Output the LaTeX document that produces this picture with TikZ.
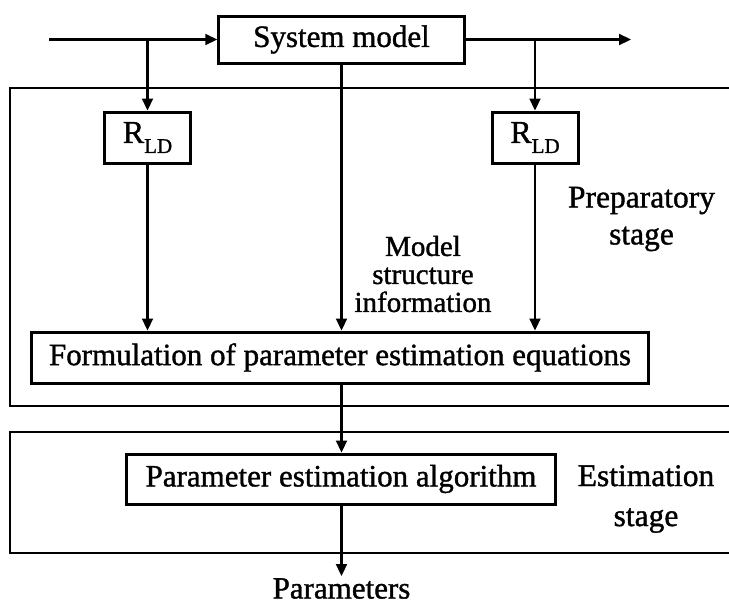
\documentclass[tikz,border=0pt]{standalone}
\usepackage{fontspec}
\setmainfont{Liberation Serif}[FakeBold=1.2]
\usetikzlibrary{arrows.meta}
\newcommand{\rld}{{\fontsize{32}{32}\selectfont R}\raisebox{-10pt}{\fontsize{21}{21}\selectfont LD}}
\begin{document}
\begin{tikzpicture}[x=1pt,y=-1pt,
  every node/.style={font=\fontsize{31}{31}\selectfont},
  box/.style={draw, line width=3pt, inner sep=0pt},
  stagebox/.style={draw, line width=2.8pt},
  conn/.style={line width=2.2pt, -{Triangle[length=12pt,width=11pt]}},
  lab/.style={align=center, inner sep=0pt}]
\useasboundingbox (0,0) rectangle (729,606);
\clip (0,0) rectangle (729,606);
% stage frames
\draw[stagebox] (10,88) rectangle (745,406);
\draw[stagebox] (10,432) rectangle (745,553);
% blocks
\node[box, minimum width=245.5pt, minimum height=47pt] (sys) at (341.5,39.5) {System model};
\node[box, minimum width=86pt, minimum height=51pt] (rl) at (147.5,137.5) {\rld};
\node[box, minimum width=86pt, minimum height=51pt] (rr) at (535,137.5) {\rld};
\node[box, minimum width=617pt, minimum height=51pt] (form) at (340,357.5) {Formulation of parameter estimation equations};
\node[box, minimum width=429pt, minimum height=50pt] (alg) at (341,479) {Parameter estimation algorithm};
\node[anchor=north, inner sep=2pt] (par) at (341.5,576) {Parameters};
% labels
\node[lab, font=\fontsize{29}{28}\selectfont] (msi) at (423,274) {Model\\structure\\information};
\node[lab, font=\fontsize{31.5}{37}\selectfont] (prep) at (641.5,219) {Preparatory\\stage};
\node[lab, font=\fontsize{31.5}{40}\selectfont] (est) at (646,499) {Estimation\\stage};
% connectors
\coordinate (in) at (49,39.5);
\coordinate (out) at (631,39.5);
\draw[conn] (in) -- (sys.west);
\draw[conn] (sys.east) -- (out);
\draw[conn] (rl.north |- sys.west) -- (rl.north);
\draw[conn] (rr.north |- sys.east) -- (rr.north);
\draw[conn] (rl.south) -- (rl.south |- form.north);
\draw[conn] (rr.south) -- (rr.south |- form.north);
\draw[conn] (sys.south) -- (sys.south |- form.north);
\draw[conn] (sys.south |- form.south) -- (sys.south |- alg.north);
\draw[conn] (sys.south |- alg.south) -- (par.north);
\end{tikzpicture}
\end{document}
